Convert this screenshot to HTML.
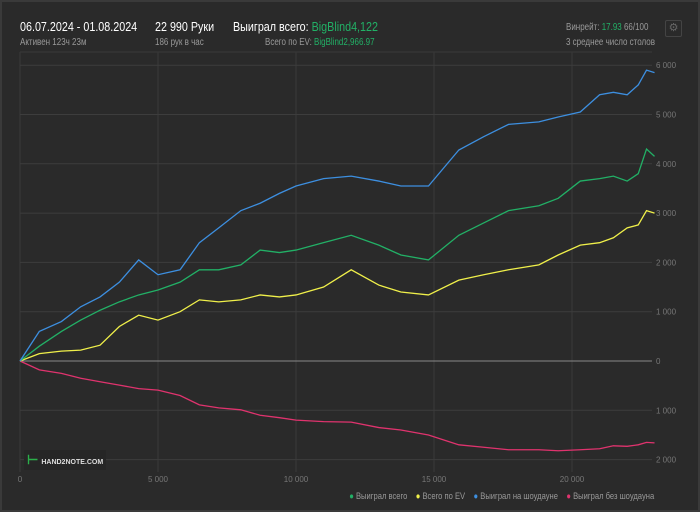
<!DOCTYPE html>
<html><head><meta charset="utf-8"><style>
body{margin:0;width:700px;height:512px;background:#3a3a3a;font-family:"Liberation Sans",sans-serif;overflow:hidden}
#panel{position:absolute;left:2px;top:2px;width:696px;height:508px;background:#2a2a2a}
.t{position:absolute;white-space:nowrap;transform:scaleX(0.8);transform-origin:left top}
.r{transform-origin:right top}
.b{color:#fff;font-size:12.5px;transform:scaleX(0.86)}
.s{color:#999;font-size:10px}
.g{color:#22b066}
</style></head><body>
<div id="panel"></div>
<div class="t b" style="left:20px;top:20px">06.07.2024 - 01.08.2024</div>
<div class="t s" style="left:20px;top:37px">Активен 123ч 23м</div>
<div class="t b" style="left:155px;top:20px">22 990 Руки</div>
<div class="t s" style="left:155px;top:37px">186 рук в час</div>
<div class="t b" style="left:233px;top:20px">Выиграл всего: <span class="g">BigBlind4,122</span></div>
<div class="t s" style="left:265px;top:37px">Всего по EV: <span class="g">BigBlind2,966.97</span></div>
<div class="t s" style="left:566px;top:22px">Винрейт: <span class="g">17.93</span> 66/100</div>
<div class="t s" style="left:566px;top:37px">3 среднее число столов</div>
<div style="position:absolute;left:665px;top:20px;width:15px;height:15px;border:1px solid #444;border-radius:2px;color:#666;font-size:11px;text-align:center;line-height:15px">⚙</div>
<svg id="c" width="700" height="512" style="position:absolute;left:0;top:0"></svg>
<div style="position:absolute;left:24px;top:450px;width:82px;height:20px;background:#262626;font-size:7px;color:#ddd;font-weight:bold;line-height:20px;white-space:nowrap"><span style="color:#2bb04a;font-size:13px;margin:0 3px 0 3px">⊢</span>HAND2NOTE.COM</div>
<div class="t s r" style="right:46px;top:491px;font-size:9.5px">
<span><span style="color:#22b066">●</span> Выиграл всего</span>&nbsp;&nbsp;&nbsp;
<span><span style="color:#f0f04a">●</span> Всего по EV</span>&nbsp;&nbsp;&nbsp;
<span><span style="color:#3d8fe0">●</span> Выиграл на шоудауне</span>&nbsp;&nbsp;&nbsp;
<span><span style="color:#e0336e">●</span> Выиграл без шоудауна</span>
</div>
<script>
const hands=[0,0.7,1.5,2.2,2.9,3.6,4.3,5,5.8,6.5,7.2,8,8.7,9.4,10,11,12,13,13.8,14.8,15.9,16.8,17.7,18.8,19.5,20.3,21,21.5,22,22.4,22.7,22.99];
const showdown=[0,600,800,1100,1300,1600,2050,1750,1850,2400,2700,3050,3200,3400,3550,3700,3750,3650,3550,3550,4280,4550,4800,4850,4950,5050,5400,5450,5400,5600,5900,5850];
const total=[0,300,600,830,1030,1200,1340,1440,1600,1850,1850,1950,2250,2200,2250,2400,2550,2350,2150,2050,2550,2800,3050,3150,3300,3650,3700,3750,3650,3800,4300,4150];
const ev=[0,150,200,220,320,700,930,830,1000,1240,1200,1240,1340,1300,1340,1500,1850,1540,1400,1340,1640,1750,1850,1950,2150,2350,2400,2500,2700,2760,3050,3000];
const nonShowdown=[0,-180,-250,-350,-420,-490,-560,-590,-700,-890,-950,-990,-1100,-1150,-1200,-1230,-1240,-1350,-1400,-1500,-1700,-1750,-1800,-1800,-1820,-1800,-1780,-1720,-1730,-1700,-1650,-1660];
const xTicks=[0,5000,10000,15000,20000];
const xTickLabels=["0","5 000","10 000","15 000","20 000"];
const yTicks=[6000,5000,4000,3000,2000,1000,0,-1000,-2000];
const yTickLabels=["6 000","5 000","4 000","3 000","2 000","1 000","0","1 000","2 000"];
const X=h=>20+h*27.6/1000, Y=v=>361-v*0.0493;
const svg=document.getElementById('c');const NS='http://www.w3.org/2000/svg';
function mk(t,a){const e=document.createElementNS(NS,t);for(const k in a)e.setAttribute(k,a[k]);svg.appendChild(e);return e;}
xTicks.forEach((t,i)=>{
const l=mk('line',{x1:X(t),x2:X(t),y1:52,y2:472,stroke:'#393939','stroke-width':1});


const tx=mk('text',{x:X(t),y:482,fill:'#777','font-size':8,'text-anchor':'middle'});tx.textContent=xTickLabels[i];


});
mk('line',{x1:20,x2:652,y1:52,y2:52,stroke:'#393939'});
yTicks.forEach((t,i)=>{
const l=mk('line',{x1:20,x2:652,y1:Y(t),y2:Y(t),stroke:t===0?'#888':'#3d3d3d','stroke-width':1});


const tx=mk('text',{x:656,y:Y(t)+3,fill:'#777','font-size':8});tx.textContent=yTickLabels[i];


});
[[nonShowdown,'#e0336e','line-non-showdown'],[ev,'#f0f04a','line-ev'],[total,'#22b066','line-total'],[showdown,'#3d8fe0','line-showdown']].forEach(([d,c,n])=>{
const p=mk('polyline',{points:d.map((v,i)=>X(hands[i]*1000)+','+Y(v)).join(' '),fill:'none',stroke:c,'stroke-width':1.3});


});
</script>
</body></html>
